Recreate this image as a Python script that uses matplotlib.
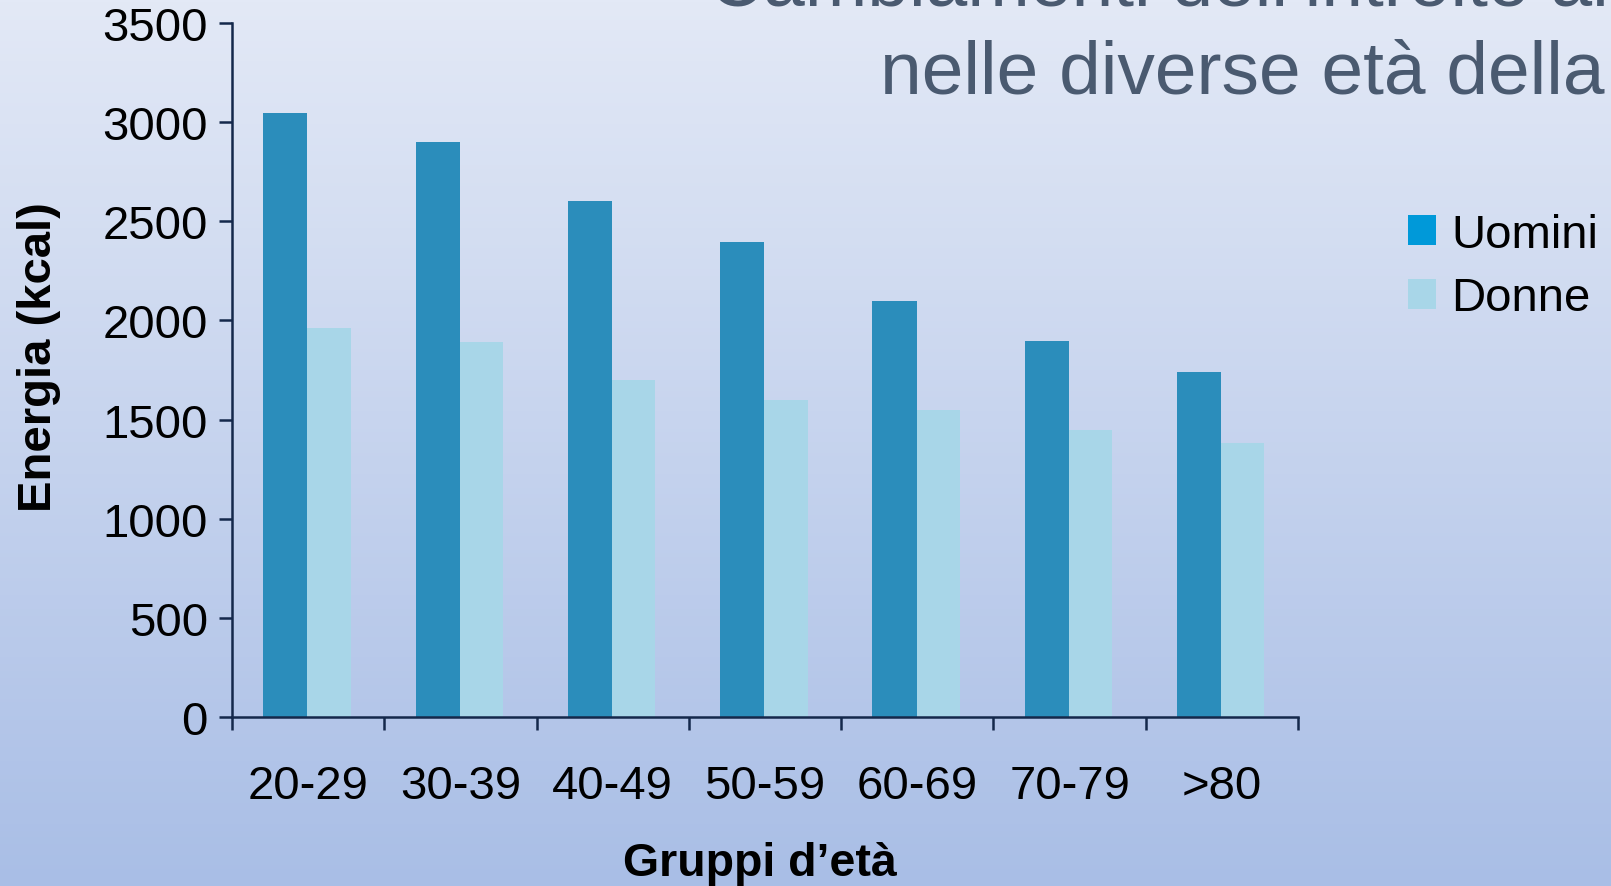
import numpy as np
import matplotlib
matplotlib.use("Agg")
import matplotlib.pyplot as plt

plt.rcParams["font.family"] = ["Liberation Sans", "DejaVu Sans"]

# data
age_groups = ["20-29", "30-39", "40-49", "50-59", "60-69", "70-79", ">80"]
men = [3045, 2900, 2600, 2395, 2100, 1895, 1740]
women = [1960, 1890, 1700, 1600, 1550, 1445, 1380]
series_labels = ["Uomini", "Donne"]

title_line1 = "Cambiamenti dell\u2019introito alimentare"
title_line2 = "nelle diverse et\u00e0 della vita"

men_color = "#2B8DBB"
men_legend_color = "#0099D9"
women_color = "#A8D6E8"
axis_color = "#14284B"

fig = plt.figure(figsize=(16.11, 8.87), dpi=100)

# background gradient
bg = fig.add_axes([0, 0, 1, 1], zorder=-10)
top = np.array([0xE3, 0xE9, 0xF6]) / 255
bottom = np.array([0xA9, 0xBE, 0xE6]) / 255
t = np.linspace(0, 1, 256)[:, None]
grad = (top * (1 - t) + bottom * t)[:, None, :]
bg.imshow(grad, aspect="auto", extent=[0, 1, 0, 1])
bg.axis("off")

ax = fig.add_axes([232 / 1611, 1 - 718 / 887, 1066 / 1611, 694 / 887])
ax.set_facecolor("none")

x = np.arange(len(age_groups))
b1 = ax.bar(x + 0.205, men, width=0.29, align="edge", color=men_color, label=series_labels[0])
b2 = ax.bar(x + 0.495, women, width=0.285, align="edge", color=women_color, label=series_labels[1])

ax.set_xlim(0, len(age_groups))
ax.set_ylim(0, 3500)
ax.set_yticks(np.arange(0, 3501, 500))
ax.set_xticks(x + 0.5)
ax.set_xticklabels(age_groups)
ax.set_xticks(np.arange(0, len(age_groups) + 1), minor=True)

for s in ["top", "right"]:
    ax.spines[s].set_visible(False)
for s in ["left", "bottom"]:
    ax.spines[s].set_color(axis_color)
    ax.spines[s].set_linewidth(1.8)

ax.tick_params(axis="y", which="major", length=9.4, width=1.8, color=axis_color,
               pad=8, labelsize=34)
ax.tick_params(axis="x", which="major", length=0, pad=34, labelsize=34)
ax.tick_params(axis="x", which="minor", length=9.4, width=1.8, color=axis_color)

ax.set_ylabel("Energia (kcal)", fontsize=34, fontweight="bold")
ax.yaxis.set_label_coords(-0.16, 0.52)
ax.set_xlabel("Gruppi d\u2019et\u00e0", fontsize=33.5, fontweight="bold")
ax.xaxis.set_label_coords(0.495, -0.179)

leg = ax.legend(loc="upper left", bbox_to_anchor=(1408 / 1611, 1 - 214 / 887),
                bbox_transform=fig.transFigure, frameon=False, fontsize=34,
                handlelength=0.6, handleheight=0.6, handletextpad=0.31,
                labelspacing=0.41, borderpad=0, borderaxespad=0)
leg.legend_handles[0].set_facecolor(men_legend_color)

fig.text(709 / 1611, 1 - 5 / 887, title_line1, fontsize=54, color="#4A5A70",
         ha="left", va="baseline")
fig.text(880 / 1611, 1 - 94 / 887, title_line2, fontsize=54, color="#4A5A70",
         ha="left", va="baseline")

fig.savefig("out.png", dpi=100)
